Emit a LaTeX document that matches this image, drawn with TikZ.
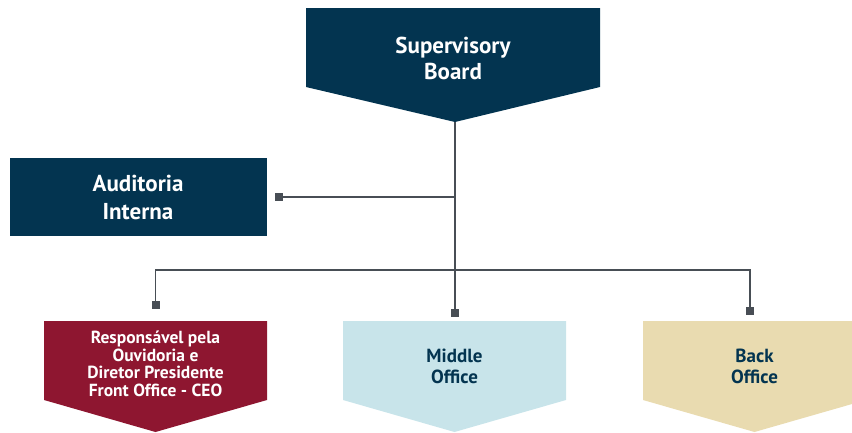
\documentclass[tikz,border=0pt]{standalone}
\usepackage{fontspec}
\setmainfont{PT Sans}
\usetikzlibrary{arrows.meta}
\definecolor{navy}{RGB}{3,52,80}
\definecolor{wine}{RGB}{142,22,48}
\definecolor{lblue}{RGB}{200,228,234}
\definecolor{beige}{RGB}{233,219,176}
\definecolor{linegray}{RGB}{72,78,85}
\tikzset{
  lbl/.style={align=center,font=\bfseries},
  conn/.style={draw=linegray,line width=1.5pt},
  sqend/.style={conn,-{Square[length=8pt,width=8pt]}},
}
\begin{document}
\begin{tikzpicture}[x=1pt,y=-1pt]
\useasboundingbox (0,0) rectangle (852,432);
\clip (0,0) rectangle (852,432);
% shapes
\fill[navy] (306,8) -- (600,8) -- (600,87) -- (455,122) -- (306,87) -- cycle;
\fill[navy] (10,158) rectangle (267,236);
\fill[wine] (44,321) -- (267,321) -- (267,400) -- (155.5,432) -- (44,400) -- cycle;
\fill[lblue] (343,321) -- (566,321) -- (566,400) -- (454.5,432) -- (343,400) -- cycle;
\fill[beige] (643,321) -- (866,321) -- (866,400) -- (754.5,432) -- (643,400) -- cycle;
% text nodes
\node[lbl,text=white,font=\bfseries\fontsize{23}{26}\selectfont] (sb) at (453,58) {Supervisory\\Board};
\node[lbl,text=white,font=\bfseries\fontsize{23}{28}\selectfont] (ai) at (138,197) {Auditoria\\Interna};
\node[lbl,text=white,font=\bfseries\fontsize{17.5}{17.5}\selectfont] (fo) at (155.5,364) {Responsável pela\\Ouvidoria e\\Diretor Presidente\\Front Office - CEO};
\node[lbl,text=navy,font=\bfseries\fontsize{19}{21}\selectfont] (mo) at (454.5,366) {Middle\\Office};
\node[lbl,text=navy,font=\bfseries\fontsize{19}{21}\selectfont] (bo) at (754.5,366) {Back\\Office};
% connector points
\coordinate (sbtip) at (455,122);
\coordinate (aiend) at (275,197);
\coordinate (jai) at (455,197);
\coordinate (jmid) at (455,270);
\coordinate (foend) at (155.5,309);
\coordinate (moend) at (455,317);
\coordinate (boend) at (750,315);
\coordinate (jl) at (155.5,270);
\coordinate (jr) at (750,270);
% connectors
\draw[conn] (sbtip) -- (jmid);
\draw[sqend] (jai) -- (aiend);
\draw[sqend] (jmid) -- (moend);
\draw[sqend] (jmid) -- (jl) -- (foend);
\draw[sqend] (jmid) -- (jr) -- (boend);
\end{tikzpicture}
\end{document}
